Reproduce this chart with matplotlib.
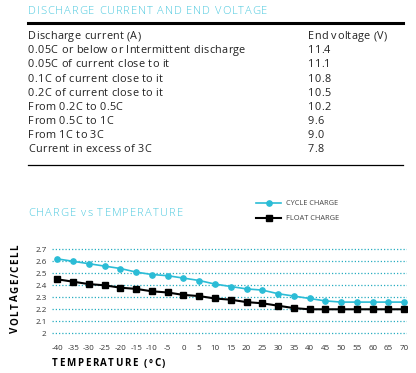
import matplotlib
matplotlib.use("Agg")
import matplotlib.pyplot as plt
from matplotlib.font_manager import findfont, FontProperties
from matplotlib.ft2font import FT2Font, LoadFlags

# ---------------- data ----------------
table_title = "DISCHARGE CURRENT AND END VOLTAGE"
col_headers = ["Discharge current (A)", "End voltage (V)"]
discharge_current = [
    "0.05C or below or Intermittent discharge",
    "0.05C of current close to it",
    "0.1C of current close to it",
    "0.2C of current close to it",
    "From 0.2C to 0.5C",
    "From 0.5C to 1C",
    "From 1C to 3C",
    "Current in excess of 3C",
]
end_voltage = ["11.4", "11.1", "10.8", "10.5", "10.2", "9.6", "9.0", "7.8"]

chart_title = "CHARGE vs TEMPERATURE"
temperature = [-40, -35, -30, -25, -20, -15, -10, -5, 0, 5, 10, 15, 20, 25,
               30, 35, 40, 45, 50, 55, 60, 65, 70]
cycle_charge = [2.62, 2.60, 2.58, 2.56, 2.54, 2.51, 2.49, 2.48, 2.46, 2.44,
                2.41, 2.39, 2.37, 2.36, 2.33, 2.31, 2.29, 2.27, 2.26, 2.26,
                2.26, 2.26, 2.26]
float_charge = [2.45, 2.43, 2.41, 2.40, 2.38, 2.37, 2.35, 2.34, 2.32, 2.31,
                2.29, 2.28, 2.26, 2.25, 2.23, 2.21, 2.20, 2.20, 2.20, 2.20,
                2.20, 2.20, 2.20]
y_ticks = [2.0, 2.1, 2.2, 2.3, 2.4, 2.5, 2.6, 2.7]
y_tick_labels = ["2", "2.1", "2.2", "2.3", "2.4", "2.5", "2.6", "2.7"]
series_labels = ["CYCLE CHARGE", "FLOAT CHARGE"]
x_label = "TEMPERATURE (°C)"
y_label = "VOLTAGE/CELL"

# ---------------- styles ----------------
W, H = 416, 373
DPI = 100
CYAN = "#2bbcd6"
TITLE_CYAN = "#4cc9df"
GRID = "#27adc0"
TXT = "#222222"
FONT = "Open Sans"

fig = plt.figure(figsize=(W / DPI, H / DPI), dpi=DPI)
fig.patch.set_facecolor("white")


def fx(px):
    return px / W


def fy(py):
    return 1 - py / H


_fonts = {}


def advances(s, size, weight):
    key = weight
    if key not in _fonts:
        _fonts[key] = FT2Font(findfont(FontProperties(family=FONT, weight=weight)))
    f = _fonts[key]
    f.set_size(size, DPI)
    out = []
    for c in s:
        g = f.load_char(ord(c), flags=LoadFlags.NO_HINTING)
        out.append(g.linearHoriAdvance / 65536.0)
    return out


def spaced(x, y, s, size, tracking, color, weight="normal", vertical=False):
    """Draw text with extra letter spacing; x, y in pixels from top-left."""
    adv = advances(s, size, weight)
    pos = 0.0
    for c, a in zip(s, adv):
        if c != " ":
            if vertical:
                fig.text(fx(x), fy(y - pos), c, fontsize=size, family=FONT,
                         fontweight=weight, color=color, rotation=90,
                         ha="center", va="bottom")
            else:
                fig.text(fx(x + pos), fy(y), c, fontsize=size, family=FONT,
                         fontweight=weight, color=color, ha="left",
                         va="center")
        pos += a + tracking


# ---------------- table ----------------
spaced(28, 11, table_title, 8.0, 0.9, TITLE_CYAN, weight="light")
fig.add_artist(plt.Line2D([fx(28), fx(403)], [fy(23), fy(23)], color="black",
                          lw=2.2, transform=fig.transFigure))
row_y0, row_dy = 36.7, 14.1
spaced(28, row_y0, col_headers[0], 7.8, 0.3, TXT)
spaced(308, row_y0, col_headers[1], 7.8, 0.3, TXT)
for i, (c, v) in enumerate(zip(discharge_current, end_voltage)):
    yy = row_y0 + (i + 1) * row_dy
    spaced(28, yy, c, 7.8, 0.3, TXT)
    spaced(308, yy, v, 7.8, 0.3, TXT)
fig.add_artist(plt.Line2D([fx(28), fx(403)], [fy(165), fy(165)], color="black",
                          lw=0.9, transform=fig.transFigure))

# ---------------- chart ----------------
spaced(28, 213, chart_title, 8.0, 1.1, TITLE_CYAN, weight="light")

ax = fig.add_axes([fx(52), fy(337), fx(407) - fx(52), (337 - 245) / H])
ax.set_xlim(-41.7, 70.9)
ax.set_ylim(1.969, 2.736)
for s in ax.spines.values():
    s.set_visible(False)
ax.set_facecolor("none")
for yv in y_ticks:
    ax.axhline(yv, color=GRID, lw=0.9, ls=(0, (1, 1.6)), zorder=1)

l1, = ax.plot(temperature, cycle_charge, color=CYAN, lw=1.2, marker="o",
              ms=3.8, mec=CYAN, mfc=CYAN, zorder=3, label=series_labels[0])
l2, = ax.plot(temperature, float_charge, color="black", lw=1.5, marker="s",
              ms=5.0, mec="black", mfc="black", zorder=4, label=series_labels[1])

ax.set_xticks(temperature)
ax.set_xticklabels([str(t) for t in temperature])
ax.set_yticks(y_ticks)
ax.set_yticklabels(y_tick_labels)
ax.tick_params(axis="both", length=0, labelsize=5.8, labelcolor="#333333")
ax.tick_params(axis="x", pad=6)
ax.tick_params(axis="y", pad=4)
for lab in ax.get_xticklabels() + ax.get_yticklabels():
    lab.set_family(FONT)

spaced(52, 364, x_label, 7.0, 1.6, "black", weight="bold")
spaced(16, 333, y_label, 7.0, 1.6, "black", weight="bold", vertical=True)

leg = fig.legend(handles=[l1, l2], labels=series_labels, loc="upper left",
                 bbox_to_anchor=(fx(256), fy(200)), frameon=False,
                 fontsize=5.3, handlelength=3.4, handletextpad=0.7,
                 labelspacing=1.1, borderpad=0, borderaxespad=0)
for t in leg.get_texts():
    t.set_color("#444444")
    t.set_family(FONT)

fig.savefig("out.png", dpi=DPI, facecolor="white")
